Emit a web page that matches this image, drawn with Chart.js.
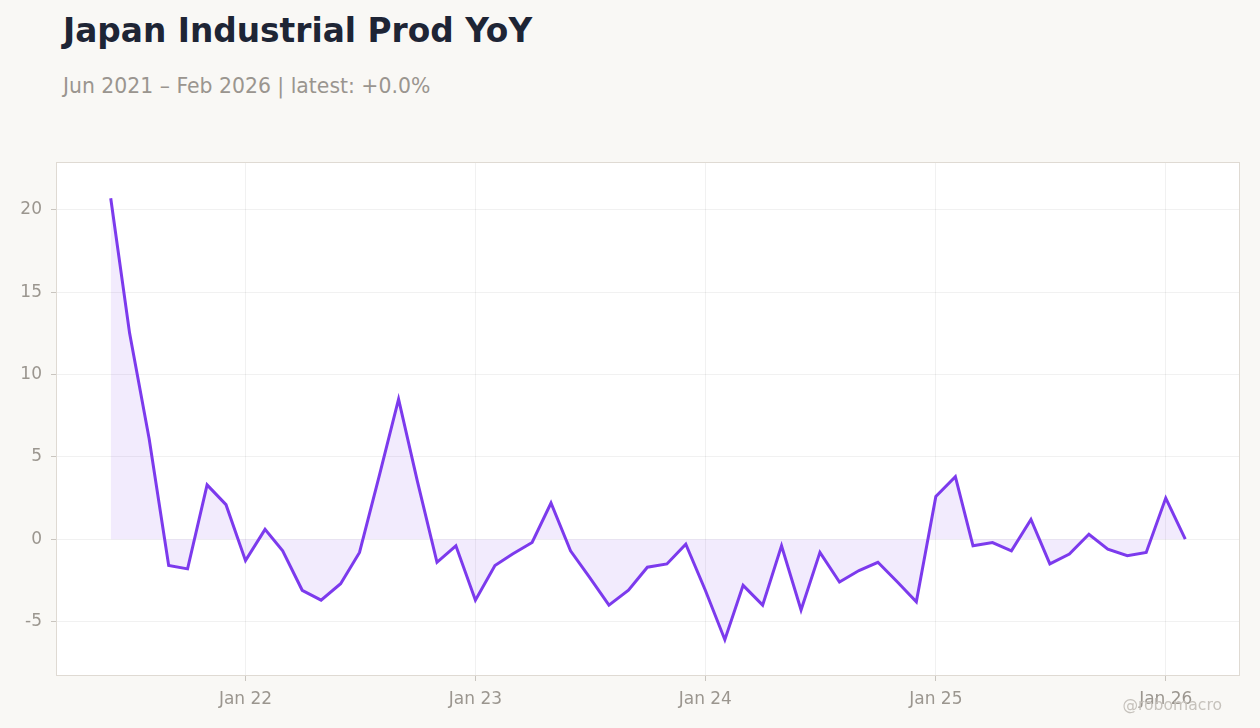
<!DOCTYPE html>
<html>
<head>
<meta charset="utf-8">
<script src="https://cdn.jsdelivr.net/npm/chart.js@4.4.1/dist/chart.umd.min.js"></script>
<style>
  html, body { margin: 0; padding: 0; background: #f9f8f5; }
  body { width: 1260px; height: 728px; position: relative; overflow: hidden; font-family: "DejaVu Sans", sans-serif; }
  #chart { position: absolute; left: 0; top: 0; }
  .txt { position: absolute; white-space: nowrap; line-height: 1; }
  #title { left: 63px; top: 15px; font-size: 32.8px; font-weight: bold; color: #1e2535; }
  #subtitle { left: 63px; top: 76px; font-size: 20.4px; color: #9a958f; }
  #mark { right: 38px; top: 698px; font-size: 15.6px; color: #c6c2bc; z-index: 2; }
</style>
</head>
<body>
<div id="title" class="txt">Japan Industrial Prod YoY</div>
<div id="subtitle" class="txt">Jun 2021 – Feb 2026 | latest: +0.0%</div>
<canvas id="chart" width="1260" height="728"></canvas>
<div id="mark" class="txt">@robomacro</div>
<script>
const months = [
  '2021-06','2021-07','2021-08','2021-09','2021-10','2021-11','2021-12',
  '2022-01','2022-02','2022-03','2022-04','2022-05','2022-06','2022-07','2022-08','2022-09','2022-10','2022-11','2022-12',
  '2023-01','2023-02','2023-03','2023-04','2023-05','2023-06','2023-07','2023-08','2023-09','2023-10','2023-11','2023-12',
  '2024-01','2024-02','2024-03','2024-04','2024-05','2024-06','2024-07','2024-08','2024-09','2024-10','2024-11','2024-12',
  '2025-01','2025-02','2025-03','2025-04','2025-05','2025-06','2025-07','2025-08','2025-09','2025-10','2025-11','2025-12',
  '2026-01','2026-02'
];
const yoyValues = [
  20.7, 12.5, 6.1, -1.6, -1.8, 3.3, 2.1,
  -1.3, 0.6, -0.7, -3.1, -3.7, -2.7, -0.8, 3.8, 8.5, 3.5, -1.4, -0.4,
  -3.7, -1.6, -0.9, -0.2, 2.2, -0.7, -2.3, -4.0, -3.1, -1.7, -1.5, -0.3,
  -3.1, -6.1, -2.8, -4.0, -0.4, -4.3, -0.8, -2.6, -1.9, -1.4, -2.6, -3.8,
  2.6, 3.8, -0.4, -0.2, -0.7, 1.2, -1.5, -0.9, 0.3, -0.6, -1.0, -0.8,
  2.5, 0.0
];
const xTickDates = ['2022-01','2023-01','2024-01','2025-01','2026-01'];
const xTickLabels = ['Jan 22','Jan 23','Jan 24','Jan 25','Jan 26'];
const yTickValues = [-5, 0, 5, 10, 15, 20];

function toTime(s) { const p = s.split('-'); return Date.UTC(+p[0], +p[1] - 1, 1); }

const points = months.map((m, i) => ({ x: toTime(m), y: yoyValues[i] }));
const xFirst = points[0].x, xLast = points[points.length - 1].x;
const xPad = (xLast - xFirst) * 0.05;
const yMinData = Math.min(...yoyValues), yMaxData = Math.max(...yoyValues);
const yPad = (yMaxData - yMinData) * 0.08;

const frame = {
  id: 'frame',
  beforeDraw(chart) {
    const a = chart.chartArea, c = chart.ctx;
    c.save();
    c.fillStyle = '#ffffff';
    c.fillRect(a.left, a.top, a.right - a.left, a.bottom - a.top);
    c.restore();
  },
  afterDraw(chart) {
    const a = chart.chartArea, c = chart.ctx;
    c.save();
    c.strokeStyle = '#dfdad3';
    c.lineWidth = 1;
    c.strokeRect(a.left - 0.5, a.top - 0.5, a.right - a.left + 1, a.bottom - a.top + 1);
    c.restore();
  }
};

const tickFont = { family: 'DejaVu Sans', size: 17 };
const tickColor = '#9b968f';

new Chart(document.getElementById('chart'), {
  type: 'line',
  data: {
    datasets: [{
      data: points,
      borderColor: '#7c3aed',
      borderWidth: 3,
      backgroundColor: 'rgba(124,58,237,0.10)',
      fill: 'origin',
      pointRadius: 0,
      pointHoverRadius: 0,
      tension: 0
    }]
  },
  options: {
    responsive: false,
    animation: false,
    devicePixelRatio: 1,
    layout: { padding: { left: 0, top: 163, right: 21, bottom: 0 } },
    plugins: { legend: { display: false }, tooltip: { enabled: false }, title: { display: false } },
    scales: {
      x: {
        type: 'linear',
        min: xFirst - xPad,
        max: xLast + xPad,
        afterFit(s) { s.height = 53; },
        afterBuildTicks(s) { s.ticks = xTickDates.map(d => ({ value: toTime(d) })); },
        ticks: {
          autoSkip: false, maxRotation: 0, padding: 8, color: tickColor, font: tickFont,
          callback(v) { const i = xTickDates.findIndex(d => toTime(d) === v); return i >= 0 ? xTickLabels[i] : ''; }
        },
        grid: { color: 'rgba(0,0,0,0.055)', tickColor: '#c9c5bf', tickLength: 6, drawTicks: true },
        border: { display: false }
      },
      y: {
        min: yMinData - yPad,
        max: yMaxData + yPad,
        afterFit(s) { s.width = 57; },
        afterBuildTicks(s) { s.ticks = yTickValues.map(v => ({ value: v })); },
        ticks: { padding: 9, color: tickColor, font: tickFont, callback(v) { return String(v); } },
        grid: { color: 'rgba(0,0,0,0.055)', tickColor: '#c9c5bf', tickLength: 6, drawTicks: true },
        border: { display: false }
      }
    }
  },
  plugins: [frame]
});
</script>
</body>
</html>
